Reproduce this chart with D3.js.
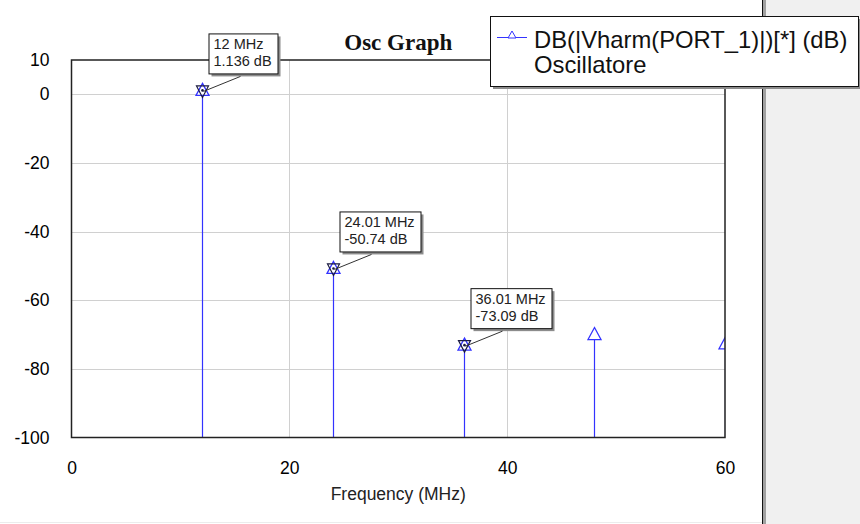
<!DOCTYPE html>
<html>
<head>
<meta charset="utf-8">
<script src="https://cdn.jsdelivr.net/npm/d3@7"></script>
<style>
  body { margin: 0; background: #fff; }
  svg { display: block; }
</style>
</head>
<body>
<div id="chart"></div>
<script>
// harmonic spectrum of the oscillator
const freqs = [12, 24.01, 36.01, 48.01, 60.01];      // MHz
const levels = [1.136, -50.74, -73.09, -70.0, -72.7]; // dB
const markedIdx = [0, 1, 2];
const xTicks = [0, 20, 40, 60];
const yTicks = [10, 0, -20, -40, -60, -80, -100];
const titleText = 'Osc Graph';
const legendLines = ['DB(|Vharm(PORT_1)|)[*] (dB)', 'Oscillatore'];
const xTitle = 'Frequency (MHz)';

const W = 860, H = 524;
const plot = { left: 71.5, right: 725, top: 60, bottom: 437.5 };
const blue = '#3333ff';
const sans = '"Liberation Sans", Arial, sans-serif';

const svg = d3.select('#chart').append('svg')
    .attr('width', W).attr('height', H);

// right side panel
svg.append('rect').attr('x', 763).attr('y', 0).attr('width', W - 763).attr('height', H).attr('fill', '#f0f0f0');
svg.append('rect').attr('x', 763).attr('y', 0).attr('width', 3).attr('height', H).attr('fill', '#a0a0a0');
svg.append('line').attr('x1', 762.5).attr('x2', 762.5).attr('y1', 0).attr('y2', H).attr('stroke', '#111');
svg.append('line').attr('x1', 0).attr('x2', 762).attr('y1', 522.5).attr('y2', 522.5).attr('stroke', '#ececec');

const x = d3.scaleLinear().domain([0, 60]).range([plot.left, plot.right]);
const y = d3.scaleLinear().domain([-100, 10]).range([plot.bottom, plot.top]);

// grid
const grid = svg.append('g').attr('stroke', '#d0d0d0').attr('stroke-width', 1);
grid.selectAll('.gx').data(xTicks.filter(d => d > 0 && d < 60)).join('line')
    .attr('x1', d => Math.round(x(d)) + 0.5).attr('x2', d => Math.round(x(d)) + 0.5)
    .attr('y1', plot.top).attr('y2', plot.bottom);
grid.selectAll('.gy').data(yTicks.filter(d => d > -100 && d < 10)).join('line')
    .attr('y1', d => Math.round(y(d)) + 0.5).attr('y2', d => Math.round(y(d)) + 0.5)
    .attr('x1', plot.left).attr('x2', plot.right);

// axes
const yAxis = svg.append('g')
    .attr('transform', `translate(${plot.left},0)`)
    .call(d3.axisLeft(y).tickValues(yTicks).tickSize(0).tickPadding(22).tickFormat(d3.format('d')));
const xAxis = svg.append('g')
    .attr('transform', `translate(0,${plot.bottom})`)
    .call(d3.axisBottom(x).tickValues(xTicks).tickSize(0).tickPadding(24));
[xAxis, yAxis].forEach(a => {
    a.select('.domain').remove();
    a.selectAll('text').attr('font-family', sans).attr('font-size', 17.5).attr('fill', '#000');
});
yAxis.selectAll('text').text(d => d < 0 ? '-' + Math.abs(d) : d);

svg.append('text').attr('x', (plot.left + plot.right) / 2).attr('y', 500)
    .attr('text-anchor', 'middle').attr('font-family', sans).attr('font-size', 17.5)
    .attr('fill', '#222').text(xTitle);

// data
const pts = freqs.map((f, i) => ({ f, v: levels[i], i }));
const clip = svg.append('clipPath').attr('id', 'plotclip').append('rect')
    .attr('x', plot.left).attr('y', plot.top - 12)
    .attr('width', plot.right - plot.left).attr('height', plot.bottom - plot.top + 12);
const dataG = svg.append('g').attr('clip-path', 'url(#plotclip)');

dataG.selectAll('.stem').data(pts).join('line')
    .attr('x1', d => Math.round(x(d.f)) + 0.5).attr('x2', d => Math.round(x(d.f)) + 0.5)
    .attr('y1', d => y(d.v)).attr('y2', plot.bottom)
    .attr('stroke', blue).attr('stroke-width', 1.2);

const upTri = (cx, cy) => `M${cx},${cy - 7}L${cx + 6.5},${cy + 5}L${cx - 6.5},${cy + 5}Z`;
const downTri = (cx, cy) => `M${cx},${cy + 7}L${cx + 6},${cy - 4.5}L${cx - 6},${cy - 4.5}Z`;

dataG.selectAll('.tri').data(pts).join('path')
    .attr('d', d => upTri(Math.round(x(d.f)) + 0.5, y(d.v)))
    .attr('fill', '#fff').attr('stroke', blue).attr('stroke-width', 1.3);

// frame
svg.append('rect').attr('x', plot.left).attr('y', plot.top)
    .attr('width', plot.right - plot.left).attr('height', plot.bottom - plot.top)
    .attr('fill', 'none').attr('stroke', '#222').attr('stroke-width', 1.5);

// markers
const marked = pts.filter(d => markedIdx.includes(d.i));
const mk = svg.append('g');
marked.forEach(d => {
    const cx = Math.round(x(d.f)) + 0.5, cy = y(d.v);
    const g = mk.append('g');
    g.append('path').attr('d', downTri(cx, cy)).attr('fill', 'none')
        .attr('stroke', '#1a1a40').attr('stroke-width', 1.2);
    g.append('circle').attr('cx', cx).attr('cy', cy).attr('r', 1.3).attr('fill', '#1a1a40');

    const bx = cx + 6, by = cy - 57, bh = 40;
    const lines = [`${d.f} MHz`, `${d.v} dB`];
    const shadow = g.append('rect').attr('x', bx + 3).attr('y', by + 3).attr('height', bh).attr('fill', '#8c8c8c');
    const box = g.append('rect').attr('x', bx + 0.5).attr('y', by + 0.5).attr('height', bh)
        .attr('fill', '#fff').attr('stroke', '#111').attr('stroke-width', 1);
    let maxW = 0;
    lines.forEach((t, k) => {
        const tx = g.append('text').attr('x', bx + 5).attr('y', by + 15.5 + k * 17)
            .attr('font-family', sans).attr('font-size', 14.5).attr('fill', '#222').text(t);
        maxW = Math.max(maxW, tx.node().getComputedTextLength());
    });
    const bw = Math.round(maxW + 11);
    shadow.attr('width', bw);
    box.attr('width', bw);
    g.append('line').attr('x1', cx + 1).attr('y1', cy + 1)
        .attr('x2', bx + 32).attr('y2', by + bh + 3)
        .attr('stroke', '#333').attr('stroke-width', 1);
});

// title
svg.append('text').attr('x', (plot.left + plot.right) / 2).attr('y', 50)
    .attr('text-anchor', 'middle').attr('font-family', '"Liberation Serif", "Times New Roman", serif')
    .attr('font-weight', 'bold').attr('font-size', 23).attr('fill', '#111').text(titleText);

// legend
const lg = svg.append('g');
lg.append('rect').attr('x', 493).attr('y', 19).attr('width', 370).attr('height', 70).attr('fill', '#8c8c8c');
lg.append('rect').attr('x', 490.5).attr('y', 16.5).attr('width', 368).attr('height', 70)
    .attr('fill', '#fff').attr('stroke', '#111').attr('stroke-width', 1);
lg.append('line').attr('x1', 497).attr('x2', 527).attr('y1', 37.5).attr('y2', 37.5)
    .attr('stroke', blue).attr('stroke-width', 1);
lg.append('path').attr('d', 'M512,31L516,38L508,38Z').attr('fill', '#fff').attr('stroke', blue).attr('stroke-width', 1);
legendLines.forEach((t, k) => {
    lg.append('text').attr('x', 534).attr('y', 47.5 + k * 25)
        .attr('font-family', sans).attr('font-size', 23.8).attr('fill', '#111').text(t);
});
</script>
</body>
</html>
